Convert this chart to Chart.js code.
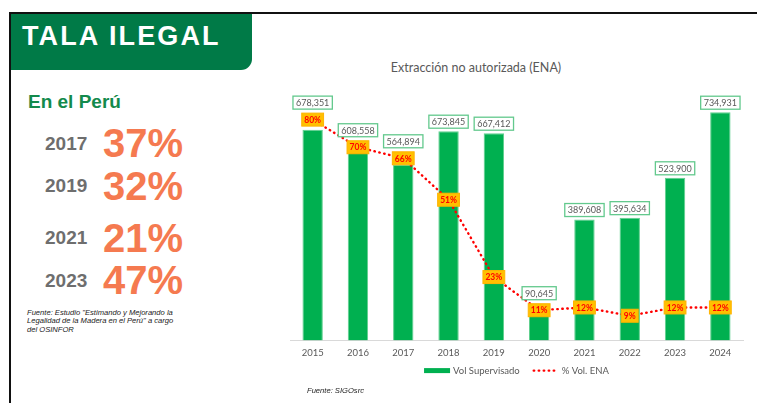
<!DOCTYPE html>
<html>
<head>
<meta charset="utf-8">
<script src="https://cdn.jsdelivr.net/npm/chart.js@4.4.1/dist/chart.umd.min.js"></script>
<style>
  html, body { margin: 0; padding: 0; background: #fff; }
  body { width: 757px; height: 403px; position: relative; overflow: hidden; font-family: "Liberation Sans", Arial, sans-serif; }
  .marco-sup { position: absolute; left: 9px; top: 12px; width: 748px; height: 2px; background: #111; }
  .marco-izq { position: absolute; left: 9px; top: 12px; width: 2px; height: 391px; background: #111; }
  .cabecera { position: absolute; left: 11px; top: 14px; width: 241px; height: 56px; background: #007a47; border-bottom-right-radius: 11px; }
  .titulo { position: absolute; left: 22px; top: 23px; font-size: 27px; line-height: 27px; font-weight: bold; color: #fff; letter-spacing: 2.1px; white-space: nowrap; }
  .peru { position: absolute; left: 28px; top: 92px; font-size: 19px; line-height: 19px; font-weight: bold; color: #138a4c; white-space: nowrap; }
  .anio { position: absolute; left: 45px; font-size: 19px; line-height: 19px; font-weight: bold; color: #6e6e6e; }
  .pct { position: absolute; left: 103px; font-size: 40px; line-height: 40px; font-weight: bold; color: #f57a50; }
  .nota { position: absolute; font-size: 7.6px; line-height: 8.4px; font-style: italic; color: #222; white-space: nowrap; }
  .graf-titulo { position: absolute; left: 366px; top: 60px; width: 220px; text-align: center; font-family: Lato, "Open Sans", sans-serif; font-size: 12.5px; line-height: 16px; color: #595959; white-space: nowrap; }
  #caja { position: absolute; left: 270px; top: 50px; width: 487px; height: 340px; }
</style>
</head>
<body>
<div class="marco-sup"></div>
<div class="marco-izq"></div>
<div class="cabecera"></div>
<div class="titulo">TALA ILEGAL</div>
<div class="peru">En el Perú</div>
<div id="resumen"></div>
<div class="nota" style="left:27px; top:309px;">Fuente: Estudio "Estimando y Mejorando la<br>Legalidad de la Madera en el Perú" a cargo<br>del OSINFOR</div>
<div class="graf-titulo">Extracción no autorizada (ENA)</div>
<div id="caja"><canvas id="grafico"></canvas></div>
<div class="nota" style="left:307px; top:387px;">Fuente: SIGOsrc</div>

<script>
// resumen lateral
const aniosResumen = ['2017', '2019', '2021', '2023'];
const pctResumen = ['37%', '32%', '21%', '47%'];

// grafico
const anios = ['2015', '2016', '2017', '2018', '2019', '2020', '2021', '2022', '2023', '2024'];
const volSupervisado = [678351, 608558, 564894, 673845, 667412, 90645, 389608, 395634, 523900, 734931];
const pctEna = [80, 70, 66, 51, 23, 11, 12, 9, 12, 12];

const centrosFila = [143, 185.5, 237.5, 280];
document.getElementById('resumen').innerHTML = aniosResumen.map((a, i) => `
  <div class="anio" style="top:${centrosFila[i] - 9.5}px">${a}</div>
  <div class="pct" style="top:${centrosFila[i] - 20}px">${pctResumen[i]}</div>
`).join('');

const fuente = 'Lato, "Open Sans", sans-serif';
const punteado = [0.5, 4.5];

const etiquetas = {
    id: 'etiquetas',
    afterDatasetsDraw(chart) {
        const ctx = chart.ctx;
        const barras = chart.getDatasetMeta(0).data;
        const puntos = chart.getDatasetMeta(1).data;
        ctx.save();
        ctx.textAlign = 'center';
        ctx.textBaseline = 'middle';

        // cajas de porcentaje centradas en cada punto
        ctx.font = 'bold 8.5px ' + fuente;
        const cajasPct = puntos.map((p, i) => {
            const txt = pctEna[i] + '%';
            const w = ctx.measureText(txt).width + 5;
            const h = 13;
            return { cx: p.x, cy: p.y, x: p.x - w / 2, y: p.y - h / 2, w, h, txt };
        });

        // cajas de volumen sobre cada barra (suben si chocan con el %)
        ctx.font = '9px ' + fuente;
        barras.forEach((b, i) => {
            const txt = volSupervisado[i].toLocaleString('en-US');
            const w = ctx.measureText(txt).width + 6;
            const h = 13;
            let base = b.y - 3;
            const c = cajasPct[i];
            if (base > c.y && base - h < c.y + c.h) base = c.y - 4;
            ctx.fillStyle = '#fff';
            ctx.fillRect(b.x - w / 2, base - h, w, h);
            ctx.strokeStyle = '#63c98d';
            ctx.lineWidth = 1.3;
            ctx.strokeRect(b.x - w / 2, base - h, w, h);
            ctx.fillStyle = '#595959';
            ctx.fillText(txt, b.x, base - h / 2 + 0.5);
        });

        ctx.font = 'bold 8.5px ' + fuente;
        cajasPct.forEach(c => {
            ctx.fillStyle = '#ffc000';
            ctx.fillRect(c.x, c.y, c.w, c.h);
            ctx.strokeStyle = '#ffb300';
            ctx.lineWidth = 1;
            ctx.strokeRect(c.x, c.y, c.w, c.h);
            ctx.fillStyle = '#ff0000';
            ctx.fillText(c.txt, c.cx, c.cy + 0.5);
        });
        ctx.restore();
    }
};

// leyenda propia, para poder separar los dos items como en el original
const leyenda = {
    id: 'leyenda',
    afterDraw(chart) {
        const ctx = chart.ctx;
        const area = chart.chartArea;
        const ds = chart.data.datasets;
        const y = area.bottom + 30;
        const ancho = 26, sepTexto = 3, sepItem = 13;
        ctx.save();
        ctx.font = '9.5px ' + fuente;
        ctx.textBaseline = 'middle';
        ctx.textAlign = 'left';
        const anchos = ds.map(d => ancho + sepTexto + ctx.measureText(d.label).width);
        const total = anchos.reduce((a, b) => a + b, 0) + sepItem * (ds.length - 1);
        let x = (area.left + area.right) / 2 - total / 2;
        ds.forEach((d, i) => {
            if (d.type === 'line') {
                ctx.strokeStyle = d.borderColor;
                ctx.lineWidth = d.borderWidth;
                ctx.lineCap = 'round';
                ctx.setLineDash(punteado);
                ctx.beginPath();
                ctx.moveTo(x + 1, y);
                ctx.lineTo(x + ancho, y);
                ctx.stroke();
                ctx.setLineDash([]);
            } else {
                ctx.fillStyle = d.backgroundColor;
                ctx.fillRect(x, y - 2.5, ancho, 5);
            }
            ctx.fillStyle = '#595959';
            ctx.fillText(d.label, x + ancho + sepTexto, y);
            x += anchos[i] + sepItem;
        });
        ctx.restore();
    }
};

new Chart(document.getElementById('grafico'), {
    type: 'bar',
    data: {
        labels: anios,
        datasets: [
            {
                label: 'Vol Supervisado',
                data: volSupervisado,
                backgroundColor: '#00b050',
                borderColor: '#5fcf8e',
                borderWidth: 1,
                barPercentage: 0.45,
                categoryPercentage: 1,
                yAxisID: 'y',
                order: 1
            },
            {
                type: 'line',
                label: '% Vol. ENA',
                data: pctEna,
                borderColor: '#ff0000',
                backgroundColor: '#ff0000',
                borderWidth: 2.4,
                borderDash: punteado,
                borderCapStyle: 'round',
                pointRadius: 0,
                tension: 0,
                yAxisID: 'y1',
                order: 0
            }
        ]
    },
    options: {
        responsive: true,
        maintainAspectRatio: false,
        animation: false,
        layout: { padding: { left: 20, right: 14, top: 42, bottom: 24 } },
        plugins: {
            legend: { display: false },
            tooltip: { enabled: false }
        },
        scales: {
            x: {
                grid: { display: false, drawTicks: false },
                border: { display: true, color: '#d9d9d9', width: 1 },
                ticks: { color: '#595959', padding: 7, font: { family: fuente, size: 9.5 } }
            },
            y: { display: false, min: 0, max: 800000 },
            y1: { display: false, min: 0, max: 90 }
        }
    },
    plugins: [etiquetas, leyenda]
});
</script>
</body>
</html>
